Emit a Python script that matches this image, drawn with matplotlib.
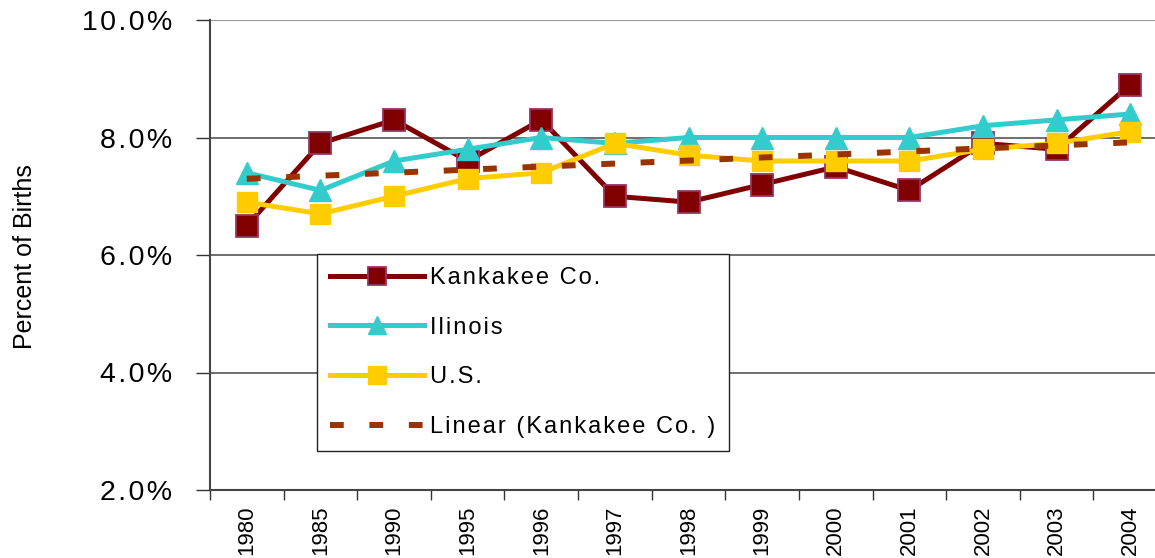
import numpy as np
import matplotlib
matplotlib.use("Agg")
import matplotlib.pyplot as plt
from matplotlib.ticker import FixedLocator, FuncFormatter

plt.rcParams["font.family"] = ["Liberation Sans", "DejaVu Sans"]

years = ["1980", "1985", "1990", "1995", "1996", "1997", "1998",
         "1999", "2000", "2001", "2002", "2003", "2004"]
kankakee = [6.5, 7.9, 8.3, 7.6, 8.3, 7.0, 6.9, 7.2, 7.5, 7.1, 7.9, 7.8, 8.9]
illinois = [7.4, 7.1, 7.6, 7.8, 8.0, 7.9, 8.0, 8.0, 8.0, 8.0, 8.2, 8.3, 8.4]
us = [6.9, 6.7, 7.0, 7.3, 7.4, 7.9, 7.7, 7.6, 7.6, 7.6, 7.8, 7.9, 8.1]


def spaced(s, gap="\u200a"):
    # the original has loose letter spacing
    return gap.join(s)


x = np.arange(len(years))
# linear trend of the Kankakee series, as the spreadsheet did it
slope, icpt = np.polyfit(x, kankakee, 1)
trend = slope * x + icpt

fig = plt.figure(figsize=(11.55, 5.58), dpi=100)
ax = fig.add_axes([210 / 1155, 1 - 490 / 558, 957 / 1155, 470 / 558])

ax.plot(x, kankakee, color="#800000", lw=3.6, marker="s", ms=15.5,
        mfc="#800000", mec="#993366", mew=1.3, label=spaced("Kankakee Co."), zorder=3)
ax.plot(x, illinois, color="#33CCCC", lw=3.6, marker="^", ms=16,
        mfc="#33CCCC", mec="#33CCCC", label=spaced("Ilinois"), zorder=4)
ax.plot(x, us, color="#FFCC00", lw=3.6, marker="s", ms=14.5,
        mfc="#FFCC00", mec="#FFCC00", label=spaced("U.S."), zorder=5)
ax.plot(x, trend, color="#993300", lw=4.3, linestyle=(0, (2.3, 4.3)),
        dash_capstyle="butt", label=spaced("Linear (Kankakee Co. )"), zorder=6)

ax.set_xlim(-0.5, len(years) - 0.5)
ax.set_ylim(2, 10)
ax.yaxis.set_major_locator(FixedLocator([2, 4, 6, 8, 10]))
ax.yaxis.set_major_formatter(FuncFormatter(lambda v, p: spaced(f"{v:.1f}%")))
ax.set_xticks(x)
ax.set_xticklabels(years, rotation=90, fontsize=16)
ax.xaxis.set_minor_locator(FixedLocator(np.arange(-0.5, len(years), 1.0)))
ax.tick_params(axis="x", which="major", length=0, pad=11)
ax.tick_params(axis="x", which="minor", length=7, width=1, color="#333333", direction="out")
ax.tick_params(axis="y", length=10, width=1, color="#333333", labelsize=20.5, pad=17)

for y in [4, 6, 8]:
    ax.axhline(y, color="#555555", lw=1.2, zorder=1)
ax.axhline(10, color="#999999", lw=1.5, zorder=1)

for s in ["top", "right"]:
    ax.spines[s].set_visible(False)
ax.spines["left"].set_color("#444444")
ax.spines["left"].set_linewidth(1.5)
ax.spines["bottom"].set_color("#444444")
ax.spines["bottom"].set_linewidth(1.5)

fig.text(25 / 1155, 1 - 257 / 558, "Percent of Births", rotation=90,
         ha="center", va="center", fontsize=18)

leg = ax.legend(loc="upper left", bbox_to_anchor=(107 / 957, 236 / 470),
                borderaxespad=0, fontsize=17, frameon=True, fancybox=False,
                edgecolor="#222222", framealpha=1, labelspacing=1.17,
                handlelength=4.0, handletextpad=0.25, borderpad=0.55,
                markerscale=0.85)
leg.get_frame().set_linewidth(1.0)
leg.set_zorder(10)

fig.savefig("out.png", dpi=100)
